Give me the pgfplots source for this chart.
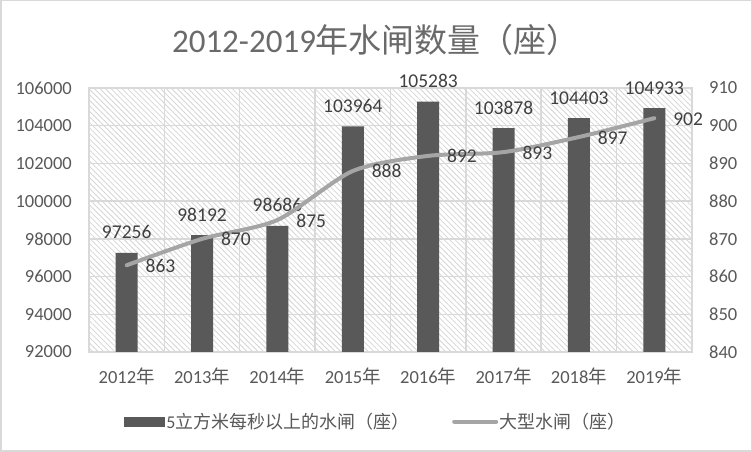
\documentclass[border=0pt]{standalone}
\usepackage{pgfplots}
\pgfplotsset{compat=1.18}
\usepackage{fontspec}
\setmainfont{Carlito}
\newfontfamily\cjk{Noto Sans CJK SC}
\usetikzlibrary{patterns.meta}
\definecolor{bar}{HTML}{595959}
\definecolor{ln}{HTML}{A5A5A5}
\definecolor{gridc}{HTML}{D9D9D9}
\definecolor{txt}{HTML}{595959}
\definecolor{ttl}{HTML}{6A6A6A}
\definecolor{lbl}{HTML}{404040}
\definecolor{hatch}{HTML}{D6D6D6}
\begin{document}
\begin{tikzpicture}[x=1pt,y=1pt]
\draw[gridc, line width=1.5pt, fill=white] (0.75,0.75) rectangle (751.25,451.25);
\node[ttl, font=\fontsize{33}{35}\selectfont, inner sep=0pt] at (376,412) {2012-2019{\cjk 年水闸数量（座）}};
\begin{axis}[
  at={(89pt,100pt)}, anchor=south west,
  width=603pt, height=264pt, scale only axis,
  xmin=-0.5, xmax=7.5, ymin=92000, ymax=106000,
  scaled y ticks=false,
  ytick={92000,94000,96000,98000,100000,102000,104000,106000},
  yticklabels={92000,94000,96000,98000,100000,102000,104000,106000},
  xtick={0,1,2,3,4,5,6,7},
  xticklabels={2012{\cjk 年},2013{\cjk 年},2014{\cjk 年},2015{\cjk 年},2016{\cjk 年},2017{\cjk 年},2018{\cjk 年},2019{\cjk 年}},
  minor xtick={-0.5,0.5,1.5,2.5,3.5,4.5,5.5,6.5,7.5},
  xminorgrids=true, ymajorgrids=true,
  major grid style={gridc, line width=1.5pt},
  minor grid style={gridc, line width=1.5pt},
  axis line style={gridc, line width=1.5pt},
  major tick length=0pt, minor tick length=0pt,
  tick style={draw=none},
  tick label style={txt, font=\fontsize{18.5}{20}\selectfont, inner sep=0pt},
  yticklabel style={anchor=east, xshift=-17pt},
  xticklabel style={anchor=base, yshift=-32pt},
  axis background/.style={pattern={Lines[angle=-45,distance=3.9pt,line width=0.8pt]}, pattern color=hatch},
  ybar, bar width=22pt,
  point meta=explicit symbolic,
  nodes near coords,
  every node near coord/.append style={lbl, font=\fontsize{19.5}{21}\selectfont, anchor=base, inner sep=0pt, yshift=14pt},
]
\addplot[fill=bar, draw=none] coordinates {
(0,97256)[97256] (1,98192)[98192] (2,98686)[98686] (3,103964)[103964]
(4,105283)[105283] (5,103878)[103878] (6,104403)[104403] (7,104933)[104933]};
\end{axis}
\begin{axis}[
  at={(89pt,100pt)}, anchor=south west,
  width=603pt, height=264pt, scale only axis,
  xmin=-0.5, xmax=7.5, ymin=840, ymax=910,
  axis y line*=right, axis x line=none,
  y axis line style={draw=none},
  ytick={840,850,860,870,880,890,900,910},
  yticklabels={840,850,860,870,880,890,900,910},
  major tick length=0pt, tick style={draw=none},
  tick label style={txt, font=\fontsize{18.5}{20}\selectfont, inner sep=0pt},
  yticklabel style={anchor=west, xshift=17pt},
  point meta=explicit symbolic,
  nodes near coords,
  every node near coord/.append style={lbl, font=\fontsize{19.5}{21}\selectfont, anchor=base west, inner sep=0pt, xshift=17pt, yshift=-7pt},
  legend columns=2,
  legend style={draw=none, fill=none, at={(axis description cs:0.058,-0.2633)}, anchor=west,
    text=txt, font=\fontsize{18}{20}\selectfont, inner sep=0pt,
    nodes={inner sep=1.75pt},
    /tikz/every even column/.append style={column sep=41pt}},
]
\addlegendimage{legend image code/.code={\fill[bar] (0pt,-4.5pt) rectangle (40pt,4.5pt);}}
\addlegendentry{5{\cjk 立方米每秒以上的水闸（座）}}
\addplot[ln, line width=4pt, smooth, tension=0.45, line cap=round, mark=none,
  legend image code/.code={\draw[ln, line width=4pt] (0pt,0pt) -- (42pt,0pt);}] coordinates {
(0,863)[863] (1,870)[870] (2,875)[875] (3,888)[888]
(4,892)[892] (5,893)[893] (6,897)[897] (7,902)[902]};
\addlegendentry{{\cjk 大型水闸（座）}}
\end{axis}
\end{tikzpicture}
\end{document}
